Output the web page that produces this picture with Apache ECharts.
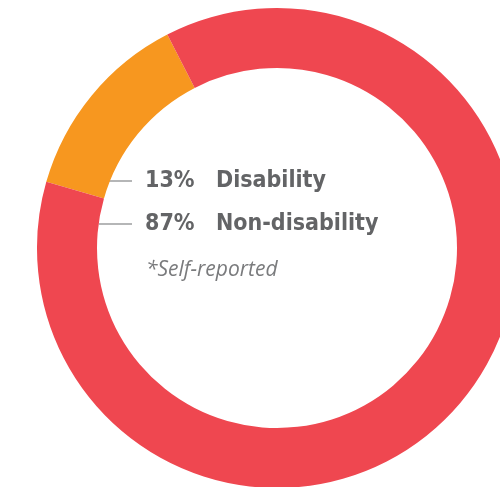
<!DOCTYPE html>
<html lang="en">
<head>
    <meta charset="UTF-8">
    <title>Disability donut</title>
    <script type="text/javascript" src="https://cdn.jsdelivr.net/npm/echarts@6.0.0/dist/echarts.min.js"></script>
    <style type="text/css">
        html, body {
            margin: 0;
            padding: 0;
            height: 100%;
            width: 100%;
            background: #fff;
        }
        #echarts{
            height: 487px;
            width: 500px;
        }
    </style>
</head>
<body>

<div id="echarts"></div>

<script type="text/javascript">
      var categories = ['Disability', 'Non-disability'];
      var values = [13, 87];
      var colors = ['#F7971F', '#EF4750'];
      var footnote = '*Self-reported';

      var myChart = echarts.init(document.getElementById("echarts"));

      var textColor = '#636466';
      var font = '"DejaVu Sans Condensed", Roboto, sans-serif';
      var rowY = [181, 224];
      var labels = [];
      categories.forEach(function (name, i) {
          labels.push({
              type: 'line',
              shape: { x1: 99, y1: rowY[i], x2: 132, y2: rowY[i] },
              style: { stroke: '#6d6e70', lineWidth: 1.2 }
          });
          labels.push({
              type: 'text',
              left: 145,
              top: rowY[i] - 11,
              style: {
                  text: '{v|' + values[i] + '%}{n|' + name + '}',
                  rich: {
                      v: { fontFamily: font, fontWeight: 'bold', fontSize: 23, fill: textColor, width: 71 },
                      n: { fontFamily: font, fontWeight: 'bold', fontSize: 23, fill: textColor }
                  }
              }
          });
      });
      labels.push({
          type: 'text',
          left: 146,
          top: 260,
          style: {
              text: footnote,
              font: 'italic 21px "Open Sans", sans-serif',
              fill: '#7a7b7d'
          }
      });

      option = {
          animation: false,
          series: [
              {
                  type: 'pie',
                  center: [277, 248],
                  radius: [180, 240],
                  startAngle: 164,
                  clockwise: true,
                  silent: true,
                  label: { show: false },
                  labelLine: { show: false },
                  itemStyle: { borderWidth: 0 },
                  data: categories.map(function (name, i) {
                      return { name: name, value: values[i], itemStyle: { color: colors[i] } };
                  })
              }
          ],
          graphic: labels
      };
      myChart.setOption(option);
</script>

</body>
</html>
